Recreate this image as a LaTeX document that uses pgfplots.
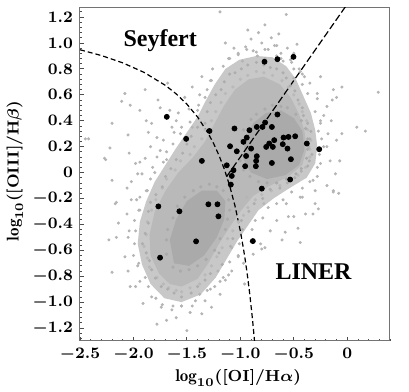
\documentclass[border=0pt]{standalone}
\usepackage{amsmath,amssymb}
\usepackage{fontspec}
\newfontfamily\tms{Liberation Serif}
\usepackage{pgfplots}
\pgfplotsset{compat=1.18}

\definecolor{cloudA}{gray}{0.785}
\definecolor{cloudB}{gray}{0.725}
\definecolor{cloudC}{gray}{0.665}
\definecolor{speck}{gray}{0.71}
\definecolor{frame}{gray}{0.45}

\begin{document}
\begin{tikzpicture}
\begin{axis}[
    scale only axis,
    width=155pt, height=166.5pt,
    xmin=-2.5, xmax=0.4, ymin=-1.3, ymax=1.27,
    axis line style={frame, line width=0.5pt},
    tick pos=left,
    tick align=inside,
    major tick length=2.2pt, minor tick length=1.2pt,
    every tick/.style={black!70, line width=0.4pt},
    xtick={-2.5,-2,-1.5,-1,-0.5,0},
    xticklabels={$-2.5$,$-2.0$,$-1.5$,$-1.0$,$-0.5$,$0$},
    minor xtick={-2.4,-2.3,...,0.35},
    ytick={-1.2,-1.0,-0.8,-0.6,-0.4,-0.2,0,0.2,0.4,0.6,0.8,1.0,1.2},
    yticklabels={$-1.2$,$-1.0$,$-0.8$,$-0.6$,$-0.4$,$-0.2$,$0$,$0.2$,$0.4$,$0.6$,$0.8$,$1.0$,$1.2$},
    minor ytick={-1.28,-1.24,...,1.25},
    ticklabel style={font=\fontsize{8}{9}\selectfont\boldmath},
    label style={font=\fontsize{8.5}{10}\selectfont\boldmath},
    xlabel={$\log_{10}(\mathbf{[OI]}/\mathbf{H}\alpha)$},
    ylabel={$\log_{10}(\mathbf{[OIII]}/\mathbf{H}\beta)$},
    xlabel style={at={(axis description cs:0.51,-0.111)}, anchor=center},
    ylabel style={at={(axis description cs:-0.21,0.51)}, anchor=center},
]

% dense part of the galaxy cloud
\addplot[fill=cloudA, draw=none] coordinates {
    (-1.55,-1.00) (-1.37,-0.94) (-1.23,-0.81) (-1.13,-0.67) (-1.03,-0.53)
    (-0.93,-0.41) (-0.83,-0.29) (-0.69,-0.20) (-0.54,-0.12) (-0.38,-0.04)
    (-0.30,0.07) (-0.28,0.20) (-0.30,0.33) (-0.34,0.46) (-0.41,0.59)
    (-0.48,0.72) (-0.57,0.82) (-0.70,0.89) (-0.85,0.90) (-1.01,0.87)
    (-1.14,0.80) (-1.24,0.68) (-1.32,0.56) (-1.40,0.43) (-1.50,0.31)
    (-1.60,0.19) (-1.70,0.06) (-1.80,-0.07) (-1.88,-0.22) (-1.94,-0.38)
    (-1.96,-0.55) (-1.92,-0.71) (-1.84,-0.86) (-1.71,-0.97)
} --cycle;
\addplot[fill=cloudB, draw=none] coordinates {
    (-1.55,-0.88) (-1.40,-0.82) (-1.30,-0.70) (-1.20,-0.55) (-1.10,-0.42)
    (-1.00,-0.30) (-0.88,-0.18) (-0.72,-0.10) (-0.55,-0.03) (-0.42,0.06)
    (-0.38,0.18) (-0.40,0.32) (-0.45,0.45) (-0.53,0.58) (-0.63,0.68)
    (-0.78,0.74) (-0.92,0.72) (-1.05,0.64) (-1.15,0.52) (-1.24,0.38)
    (-1.33,0.24) (-1.44,0.12) (-1.58,0.00) (-1.70,-0.14) (-1.80,-0.30)
    (-1.85,-0.48) (-1.84,-0.64) (-1.76,-0.78) (-1.66,-0.86)
} --cycle;
% specks of the dense part lying in the lighter rim
\addplot[only marks, mark=*, mark size=0.6pt, color=cloudB] coordinates {
    (-1.55,-0.92) (-1.38,-0.86) (-1.27,-0.72) (-1.17,-0.58) (-1.07,-0.45)
    (-0.97,-0.33) (-0.86,-0.21) (-0.71,-0.14) (-0.53,-0.06) (-0.39,0.04)
    (-0.35,0.18) (-0.37,0.33) (-0.42,0.47) (-0.50,0.60) (-0.61,0.71)
    (-0.78,0.77) (-0.93,0.75) (-1.07,0.66) (-1.18,0.54) (-1.27,0.40)
    (-1.36,0.26) (-1.47,0.14) (-1.61,0.02) (-1.73,-0.12) (-1.83,-0.29)
    (-1.88,-0.48) (-1.87,-0.66) (-1.78,-0.81) (-1.67,-0.89)
    (-1.47,-0.89) (-1.33,-0.79) (-1.22,-0.65) (-1.12,-0.51) (-1.02,-0.38)
    (-0.93,-0.27) (-0.80,-0.17) (-0.63,-0.10) (-0.46,-0.02) (-0.35,0.12)
    (-0.34,0.25) (-0.38,0.40) (-0.45,0.53) (-0.55,0.66) (-0.70,0.75)
    (-0.85,0.78) (-1.00,0.72) (-1.14,0.61) (-1.23,0.47) (-1.33,0.33)
    (-1.43,0.20) (-1.56,0.09) (-1.69,-0.05) (-1.79,-0.21) (-1.87,-0.38)
    (-1.90,-0.57) (-1.85,-0.73) (-1.72,-0.86) (-1.60,-0.91)
};
\addplot[fill=cloudC, draw=none] coordinates {
    (-0.90,0.00) (-0.75,-0.05) (-0.58,-0.02) (-0.45,0.06) (-0.40,0.18)
    (-0.42,0.32) (-0.50,0.42) (-0.62,0.48) (-0.76,0.46) (-0.88,0.38)
    (-0.96,0.24) (-0.97,0.10)
} --cycle;
\addplot[fill=cloudC, draw=none] coordinates {
    (-1.62,-0.70) (-1.48,-0.72) (-1.34,-0.64) (-1.22,-0.50) (-1.15,-0.36)
    (-1.14,-0.22) (-1.22,-0.14) (-1.36,-0.14) (-1.50,-0.22) (-1.60,-0.36)
    (-1.66,-0.52)
} --cycle;
% specks of the cores
\addplot[only marks, mark=*, mark size=0.6pt, color=cloudC] coordinates {
    (-0.91,-0.03) (-0.75,-0.08) (-0.57,-0.05) (-0.43,0.03) (-0.37,0.18)
    (-0.39,0.34) (-0.48,0.45) (-0.62,0.51) (-0.77,0.49) (-0.90,0.41)
    (-0.99,0.25) (-1.00,0.09) (-0.83,-0.07) (-0.66,-0.08) (-0.48,-0.01)
    (-0.38,0.11) (-0.37,0.26) (-0.43,0.40) (-0.56,0.50) (-0.70,0.52)
    (-0.85,0.45) (-0.97,0.33) (-1.02,0.17) (-0.97,0.02)
    (-1.63,-0.73) (-1.48,-0.75) (-1.32,-0.67) (-1.19,-0.51) (-1.12,-0.36)
    (-1.11,-0.21) (-1.22,-0.11) (-1.37,-0.11) (-1.52,-0.19) (-1.63,-0.35)
    (-1.69,-0.52) (-1.56,-0.76) (-1.40,-0.72) (-1.24,-0.60) (-1.14,-0.44)
    (-1.10,-0.29) (-1.16,-0.14) (-1.29,-0.09) (-1.44,-0.14) (-1.59,-0.26)
    (-1.68,-0.44) (-1.69,-0.63)
};
% specks in the lighter rim
\addplot[only marks, mark=*, mark size=0.55pt, color=gray!64] coordinates {
    (-1.55,-0.96) (-1.40,-0.88) (-1.28,-0.78) (-1.20,-0.62) (-1.07,-0.51)
    (-0.99,-0.37) (-0.87,-0.24) (-0.72,-0.13) (-0.56,-0.08) (-0.43,0.01)
    (-0.355,0.09) (-0.36,0.20) (-0.34,0.318) (-0.41,0.44) (-0.46,0.56)
    (-0.53,0.67) (-0.60,0.77) (-0.72,0.81) (-0.85,0.85) (-0.99,0.80)
    (-1.10,0.76) (-1.18,0.64) (-1.28,0.54) (-1.33,0.38) (-1.46,0.28)
    (-1.54,0.15) (-1.65,0.03) (-1.73,-0.11) (-1.84,-0.23) (-1.86,-0.39)
    (-1.915,-0.55) (-1.85,-0.68) (-1.795,-0.815) (-1.68,-0.90)
    (-1.46,-0.93) (-1.33,-0.83) (-1.17,-0.71) (-1.09,-0.57) (-0.98,-0.44)
    (-0.92,-0.30) (-0.79,-0.20) (-0.63,-0.12) (-0.49,-0.04) (-0.37,0.05)
    (-0.33,0.14) (-0.35,0.26) (-0.37,0.38) (-0.42,0.50) (-0.49,0.63)
    (-0.57,0.73) (-0.66,0.80) (-0.78,0.83) (-0.93,0.83) (-1.05,0.77)
    (-1.15,0.70) (-1.23,0.60) (-1.31,0.47) (-1.40,0.35) (-1.50,0.22)
    (-1.60,0.10) (-1.70,-0.03) (-1.79,-0.17) (-1.86,-0.30) (-1.89,-0.47)
    (-1.88,-0.62) (-1.83,-0.75) (-1.74,-0.88) (-1.62,-0.93)
};

% sparse galaxies around the cloud
\addplot[only marks, mark=*, mark size=0.55pt, color=speck] coordinates {
    (-1.02,0.92) (-0.95,0.97) (-0.88,0.94) (-0.80,1.00) (-0.74,0.95) (-0.68,0.98)
    (-0.62,0.92) (-0.56,0.96) (-0.90,1.03) (-0.71,1.04) (-1.10,0.88) (-0.60,0.86)
    (-0.52,0.85) (-0.98,0.86) (-0.84,0.90) (-0.66,0.90) (-0.77,0.88) (-1.06,0.96)
    (-0.50,0.92) (-0.45,0.80) (-0.40,0.74) (-0.57,1.22) (-1.19,1.24) (-0.77,1.14)
    (-0.83,1.08) (-0.93,1.10) (-0.64,1.07) (-1.14,1.00) (-0.47,0.99)
    (-2.45,0.26) (-2.20,0.38) (-2.22,0.19) (-2.26,0.10) (-2.20,-0.06) (-2.05,0.29)
    (-2.04,0.15) (-2.11,0.55) (-2.03,0.52) (-2.02,-0.07) (-1.98,0.07) (-1.94,0.08)
    (-1.92,-0.01) (-1.94,0.48) (-1.88,0.40) (-1.86,0.31) (-1.83,0.38) (-1.78,0.27)
    (-1.84,0.20) (-1.89,0.11) (-1.78,0.12) (-1.75,0.17) (-1.72,0.25) (-1.69,0.10)
    (-1.80,0.00) (-1.97,-0.21) (-2.16,-0.23) (-2.06,-0.12) (-1.88,-0.14) (-1.94,-0.29)
    (-1.75,0.50) (-1.66,0.48) (-1.64,0.35) (-1.60,0.40) (-1.56,0.30) (-2.08,0.61)
    (-1.89,0.64) (-1.77,0.56) (-1.68,0.69) (-1.52,0.58) (-1.45,0.66) (-1.58,0.46)
    (-1.40,0.48) (-1.33,0.58) (-1.45,0.35) (-1.36,0.74) (-1.27,0.71) (-2.27,0.11)
    (-2.42,0.26) (-1.96,-0.01)
    (0.09,0.35) (0.17,0.32) (0.29,0.62) (-0.13,0.64) (-0.05,0.66) (-0.10,0.58)
    (-0.14,0.56) (-0.19,0.51) (-0.22,0.44) (-0.18,0.30) (-0.10,0.25) (-0.16,0.09)
    (-0.07,0.09) (-0.11,-0.01) (-0.19,-0.10) (-0.28,0.04) (-0.32,-0.06) (-0.13,-0.15)
    (-0.25,0.38) (-0.28,0.61) (-0.35,0.69) (-0.44,0.78) (-0.25,0.74) (-0.50,0.73)
    (-0.08,-0.16) (-0.22,0.20) (-0.15,0.40) (-0.05,0.30)
    (-0.94,-0.19) (-0.78,-0.24) (-0.60,-0.21) (-0.44,-0.19) (-0.30,-0.24) (-0.32,-0.32)
    (-0.50,-0.34) (-0.66,-0.37) (-0.72,-0.45) (-0.58,-0.46) (-0.44,-0.54) (-0.81,-0.55)
    (-0.88,-0.63) (-0.80,-0.59) (-0.97,-0.70) (-1.08,-0.76) (-1.16,-0.81) (-1.24,-0.88)
    (-1.31,-0.91) (-1.19,-0.94) (-1.14,-0.83) (-1.21,-0.76) (-1.02,-0.65) (-1.08,-0.58)
    (-0.77,-0.58) (-0.46,-0.43) (-0.39,-0.32) (-0.27,-0.28) (-0.55,-0.34) (-0.42,-0.19)
    (-0.30,-0.14) (-0.13,-0.14) (-0.61,-0.52) (-0.96,-0.86)
    (-1.78,-1.17) (-1.69,-1.14) (-1.50,-1.22) (-1.91,-1.01) (-1.74,-1.04) (-1.64,-1.06)
    (-1.55,-1.03) (-1.42,-0.99) (-1.38,-0.94) (-1.83,-0.96) (-1.98,-0.88) (-2.05,-0.76)
    (-2.20,-0.77) (-2.08,-0.65) (-2.16,-0.50) (-2.23,-0.52) (-2.05,-0.50) (-2.14,-0.39)
    (-2.06,-0.32) (-2.02,-0.21) (-2.17,-0.24) (-1.98,-0.45) (-1.95,-0.70) (-1.89,-0.81)
    (-1.36,-1.09) (-1.27,-1.04) (-2.03,-0.88) (-1.60,-1.12) (-1.47,-1.08)
    (-1.55,-1.03) (-1.45,-1.03) (-1.33,-0.99) (-1.28,-0.90) (-1.19,-0.84) (-1.11,-0.79)
    (-1.10,-0.69) (-1.02,-0.64) (-1.01,-0.55) (-0.90,-0.53) (-0.89,-0.44) (-0.86,-0.37)
    (-0.79,-0.35) (-0.74,-0.27) (-0.66,-0.24) (-0.57,-0.24) (-0.52,-0.15) (-0.42,-0.12)
    (-0.35,-0.07) (-0.28,-0.03) (-0.25,0.07) (-0.26,0.14) (-0.19,0.20) (-0.24,0.26)
    (-0.27,0.32) (-0.25,0.40) (-0.30,0.47) (-0.28,0.57) (-0.37,0.61) (-0.42,0.68)
    (-0.42,0.76) (-0.50,0.80) (-0.53,0.87) (-0.62,0.88) (-0.66,0.98) (-0.77,0.95)
    (-0.85,0.93) (-0.94,0.95) (-1.02,0.91) (-1.11,0.88) (-1.16,0.82) (-1.26,0.80)
    (-1.28,0.71) (-1.31,0.64) (-1.38,0.60) (-1.39,0.52) (-1.48,0.49) (-1.47,0.39)
    (-1.55,0.35) (-1.62,0.31) (-1.63,0.22) (-1.69,0.16) (-1.72,0.08) (-1.82,0.04)
    (-1.84,-0.05) (-1.87,-0.14) (-1.94,-0.19) (-1.95,-0.29) (-1.99,-0.37) (-2.04,-0.45)
    (-1.99,-0.55) (-2.00,-0.64) (-1.96,-0.72) (-1.94,-0.84) (-1.86,-0.88) (-1.79,-0.97)
    (-1.73,-1.02) (-1.63,-1.03)
};

% Kewley et al. (2001) maximum starburst line
\addplot[black, line width=0.6pt, dash pattern=on 2.5pt off 1.5pt] coordinates {
    (-2.5,0.9478) (-2.3,0.9031) (-2.1,0.8466) (-1.9,0.7727) (-1.7,0.6723)
    (-1.6,0.6072) (-1.5,0.5278) (-1.4,0.4288) (-1.3,0.3018) (-1.25,0.2239)
    (-1.2,0.1333) (-1.15,0.0264) (-1.1,-0.1014) (-1.05,-0.2570) (-1.0,-0.4505)
    (-0.97,-0.5911) (-0.95,-0.6978) (-0.93,-0.8171) (-0.91,-0.9513)
    (-0.89,-1.1033) (-0.88,-1.1872) (-0.8676,-1.30)
};
% Seyfert / LINER division
\addplot[black, line width=0.6pt, dash pattern=on 3.5pt off 1.5pt] coordinates {
    (-1.127,-0.030) (0.0,1.30)
};

% sample galaxies
\addplot[only marks, mark=*, mark size=1.25pt, color=black] coordinates {
    (-1.688,0.430) (-1.507,0.260) (-1.360,0.090) (-0.774,0.855) (-0.653,0.875)
    (-0.503,0.893) (-0.653,0.448) (-1.289,0.321) (-1.055,0.340) (-0.915,0.327)
    (-0.846,0.352) (-0.793,0.352) (-0.768,0.386) (-0.705,0.352) (-0.940,0.270)
    (-0.971,0.237) (-0.596,0.270) (-0.550,0.275) (-0.487,0.280) (-0.683,0.250)
    (-0.730,0.224) (-0.758,0.198) (-0.696,0.198) (-0.603,0.219) (-0.559,0.185)
    (-0.378,0.224) (-0.262,0.180) (-1.096,0.203) (-1.033,0.164) (-0.899,0.185)
    (-0.946,0.128) (-0.846,0.126) (-0.852,0.090) (-0.527,0.103) (-0.705,0.074)
    (-0.955,0.049) (-0.855,0.049) (-1.127,0.056) (-1.064,0.018) (-1.080,-0.026)
    (-0.534,-0.054) (-1.089,-0.093) (-0.799,-0.124) (-1.767,-0.261) (-1.570,-0.299)
    (-1.299,-0.245) (-1.214,-0.245) (-1.205,-0.338) (-1.414,-0.531) (-1.751,-0.657)
    (-0.883,-0.529)
};

\node[font=\tms\bfseries\fontsize{12}{14}\selectfont, anchor=base] at (axis cs:-1.75,0.976) {Seyfert};
\node[font=\tms\bfseries\fontsize{12}{14}\selectfont, anchor=base] at (axis cs:-0.315,-0.827) {LINER};
\end{axis}
\pgfresetboundingbox
\useasboundingbox (-40pt,-25.2pt) rectangle (164.5pt,170.5pt);
\end{tikzpicture}
\end{document}
